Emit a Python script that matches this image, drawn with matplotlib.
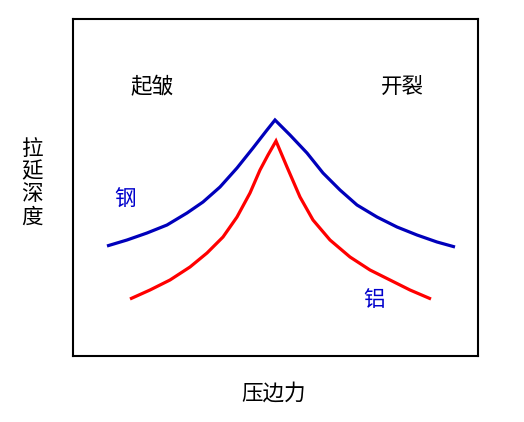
import numpy as np
import matplotlib
matplotlib.use('Agg')
import matplotlib.pyplot as plt

plt.rcParams['font.family'] = ['Noto Sans CJK SC', 'DejaVu Sans']

# 钢 (steel) curve, schematic units
gang_x = [34, 54, 74, 94, 114, 130, 147, 164, 180, 194, 202,
          217, 234, 250, 267, 284, 304, 324, 344, 364, 382]
gang_y = [110, 116, 123, 131, 143, 154, 169, 188, 208, 226, 236,
          221, 203, 183, 166, 151, 139, 129, 121, 114, 109]

# 铝 (aluminium) curve
lv_x = [57, 77, 97, 117, 134, 150, 164, 177, 187, 195, 203,
        214, 227, 240, 257, 277, 297, 317, 337, 358]
lv_y = [57, 66, 76, 89, 103, 119, 139, 163, 186, 201, 215,
        189, 159, 136, 116, 99, 86, 76, 66, 57]

labels_zone = ['起皱', '开裂']
zone_x = [79, 329]
zone_y = [269, 269]

fig = plt.figure(figsize=(5.24, 4.22), dpi=100)
ax = fig.add_axes([73/524, 66/422, 405/524, 337/422])
ax.set_xlim(0, 405)
ax.set_ylim(0, 337)

ax.plot(gang_x, gang_y, color='#0000bb', lw=2.3, solid_capstyle='butt',
        solid_joinstyle='miter')
ax.plot(lv_x, lv_y, color='#ff0000', lw=2.3, solid_capstyle='butt',
        solid_joinstyle='miter')

for t, x, y in zip(labels_zone, zone_x, zone_y):
    ax.text(x, y, t, fontsize=15.5, ha='center', va='center', color='black')
ax.text(52, 156, '钢', fontsize=15.5, ha='center', va='center', color='#0000cc')
ax.text(301, 56, '铝', fontsize=15.5, ha='center', va='center', color='#0000cc')

ax.set_xticks([])
ax.set_yticks([])
for s in ax.spines.values():
    s.set_linewidth(1.5)

fig.text(274/524, 1 - 394/422, '压边力', fontsize=15.5, ha='center', va='center')
fig.text(32/524, 1 - 183/422, '拉\n延\n深\n度', fontsize=15.5, ha='center', va='center',
         linespacing=1.05)

fig.savefig('out.png', dpi=100)
